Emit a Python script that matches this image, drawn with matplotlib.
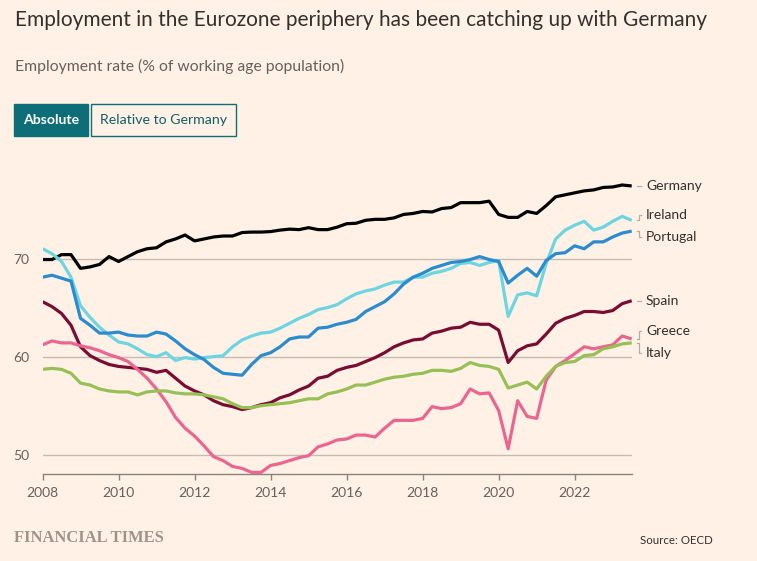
import matplotlib
matplotlib.use("Agg")
import matplotlib.pyplot as plt
from matplotlib.patches import Rectangle
import pandas as pd
import numpy as np

# ---------------- data (quarterly, 2008Q1 - 2023Q3) ----------------
quarters = pd.period_range("2008Q1", "2023Q3", freq="Q")

germany = [69.9, 69.9, 70.4, 70.4, 69.0, 69.15, 69.4, 70.2, 69.7, 70.2, 70.7, 71.0, 71.1, 71.7, 72.0, 72.4,
           71.8, 72.0, 72.2, 72.3, 72.3, 72.65, 72.7, 72.7, 72.75, 72.9, 73.0, 72.95, 73.15, 72.95, 72.95, 73.2,
           73.55, 73.6, 73.9, 74.0, 74.0, 74.15, 74.5, 74.6, 74.8, 74.75, 75.1, 75.2, 75.7, 75.7, 75.7, 75.85,
           74.5, 74.2, 74.2, 74.8, 74.6, 75.4, 76.3, 76.5, 76.7, 76.9, 77.0, 77.25, 77.3, 77.5, 77.4]
ireland = [71.0, 70.5, 69.7, 68.1, 65.2, 64.0, 63.0, 62.2, 61.5, 61.3, 60.8, 60.2, 60.0, 60.4, 59.6, 59.9,
           59.75, 59.9, 60.0, 60.1, 61.0, 61.7, 62.1, 62.4, 62.5, 62.9, 63.4, 63.9, 64.3, 64.8, 65.0, 65.3,
           65.9, 66.4, 66.7, 66.9, 67.3, 67.6, 67.6, 68.1, 68.1, 68.5, 68.7, 69.0, 69.5, 69.6, 69.3, 69.6,
           69.8, 64.1, 66.3, 66.5, 66.2, 69.5, 72.0, 72.9, 73.4, 73.8, 72.9, 73.2, 73.8, 74.3, 73.9]
portugal = [68.1, 68.3, 68.0, 67.7, 63.9, 63.2, 62.4, 62.4, 62.5, 62.2, 62.1, 62.1, 62.5, 62.3, 61.6, 60.8,
            60.2, 59.7, 58.9, 58.3, 58.2, 58.1, 59.2, 60.1, 60.4, 61.0, 61.8, 62.0, 62.0, 62.9, 63.0, 63.3,
            63.5, 63.8, 64.6, 65.1, 65.6, 66.4, 67.4, 68.1, 68.5, 69.0, 69.3, 69.6, 69.7, 69.9, 70.2, 69.9,
            69.7, 67.5, 68.3, 69.0, 68.2, 69.8, 70.5, 70.6, 71.3, 71.0, 71.7, 71.7, 72.2, 72.6, 72.8]
spain = [65.6, 65.1, 64.4, 63.2, 61.0, 60.1, 59.6, 59.2, 59.0, 58.9, 58.8, 58.7, 58.4, 58.6, 57.8, 57.0,
         56.5, 56.1, 55.5, 55.1, 54.9, 54.6, 54.8, 55.1, 55.3, 55.8, 56.1, 56.6, 57.0, 57.8, 58.0, 58.6,
         58.9, 59.1, 59.5, 59.9, 60.4, 61.0, 61.4, 61.7, 61.8, 62.4, 62.6, 62.9, 63.0, 63.5, 63.3, 63.3,
         62.7, 59.4, 60.6, 61.1, 61.3, 62.3, 63.4, 63.9, 64.2, 64.6, 64.6, 64.5, 64.7, 65.4, 65.7]
greece = [61.2, 61.6, 61.4, 61.4, 61.1, 60.9, 60.6, 60.2, 59.9, 59.5, 58.7, 57.8, 56.7, 55.4, 53.8, 52.7,
          51.9, 50.9, 49.8, 49.4, 48.8, 48.6, 48.2, 48.2, 48.9, 49.1, 49.4, 49.7, 49.9, 50.8, 51.1, 51.5,
          51.6, 52.0, 52.0, 51.8, 52.7, 53.5, 53.5, 53.5, 53.7, 54.9, 54.7, 54.8, 55.2, 56.7, 56.2, 56.3,
          54.5, 50.6, 55.5, 53.9, 53.7, 57.6, 59.0, 59.6, 60.3, 61.0, 60.8, 61.0, 61.2, 62.1, 61.8]
italy = [58.7, 58.8, 58.7, 58.3, 57.3, 57.1, 56.7, 56.5, 56.4, 56.4, 56.1, 56.4, 56.5, 56.5, 56.3, 56.2,
         56.2, 56.1, 55.9, 55.7, 55.2, 54.8, 54.8, 55.0, 55.1, 55.2, 55.3, 55.5, 55.7, 55.7, 56.2, 56.4,
         56.7, 57.1, 57.1, 57.4, 57.7, 57.9, 58.0, 58.2, 58.3, 58.6, 58.6, 58.5, 58.8, 59.4, 59.1, 59.0,
         58.7, 56.8, 57.1, 57.4, 56.7, 58.0, 59.0, 59.4, 59.5, 60.1, 60.2, 60.8, 61.0, 61.3, 61.4]

countries = ["Germany", "Ireland", "Portugal", "Spain", "Greece", "Italy"]
series = [germany, ireland, portugal, spain, greece, italy]
colors = ["#000000", "#6dd4e2", "#2a8ccf", "#780c33", "#ea6590", "#96bf55"]
label_offsets = [0.0, 0.5, -0.65, 0.0, 0.8, -1.0]   # layout nudges for end labels

x_ticks = [2008, 2010, 2012, 2014, 2016, 2018, 2020, 2022]
y_ticks = [50, 60, 70]

# ---------------- styling ----------------
BG = "#fff1e5"
TXT = "#33302e"
GREY = "#66605c"
plt.rcParams["font.family"] = ["Lato", "DejaVu Sans"]

W, H = 757, 561
fig = plt.figure(figsize=(W / 100, H / 100), dpi=100, facecolor=BG)


def fx(px):
    return px / W


def fy(py):
    return 1 - py / H


def fit(t, target):
    r = fig.canvas.get_renderer()
    w = t.get_window_extent(r).width
    t.set_fontsize(t.get_fontsize() * target / w)
    return t.get_fontsize()


# axes: 2008 at x=42.5 px, 2023.5 at 631.7 px; y 48 at 474.3 px, 78 at 180.1 px
ax = fig.add_axes([fx(42.5), fy(474.3), fx(631.7) - fx(42.5), fy(180.1) - fy(474.3)])
ax.set_facecolor(BG)
x = np.array([q.year + (q.quarter - 1) / 4 for q in quarters])

for name, vals, c in zip(countries, series, colors):
    ax.plot(x, vals, color=c, lw=2.3, solid_capstyle="butt", solid_joinstyle="round", zorder=3)

ax.set_xlim(2008, 2023.5)
ax.set_ylim(48, 78)
ax.set_yticks(y_ticks)
ax.set_xticks(x_ticks)
ax.yaxis.grid(True, color="#c5bbb2", lw=1)
ax.set_axisbelow(True)
for s in ["top", "right", "left"]:
    ax.spines[s].set_visible(False)
ax.spines["bottom"].set_color("#8a827c")
ax.spines["bottom"].set_linewidth(1)

# tick label sizes from measured widths
probe = fig.text(0, 0, "2008")
tick_fs = fit(probe, 32)
probe.remove()
ax.tick_params(axis="y", length=0, pad=9.5, labelsize=tick_fs, labelcolor=GREY)
ax.tick_params(axis="x", length=4.5, width=1, color="#8a827c", pad=4.5, labelsize=tick_fs, labelcolor=GREY)


def px2yr(px):
    return 2008 + (px - 42.5) / 38.05


probe = fig.text(0, 0, "Germany")
lab_fs = fit(probe, 56)
probe.remove()

for name, vals, off in zip(countries, series, label_offsets):
    yend = vals[-1]
    ylab = yend + off
    if off == 0:
        ax.plot([px2yr(637.5), px2yr(641.5)], [ylab, ylab], color="#b7ada5", lw=0.9, clip_on=False)
    else:
        ax.plot([px2yr(637.5), px2yr(639.3), px2yr(639.3), px2yr(641.3)],
                [yend, yend, ylab, ylab], color="#b7ada5", lw=0.9, clip_on=False)
    ax.text(px2yr(646.5), ylab, name, ha="left", va="center", fontsize=lab_fs, color=TXT, clip_on=False)

# ---------------- header ----------------
title = fig.text(fx(15), fy(26), "Employment in the Eurozone periphery has been catching up with Germany",
                 ha="left", va="baseline", color=TXT, fontsize=15)
fit(title, 692)
sub = fig.text(fx(15), fy(70.7), "Employment rate (% of working age population)",
               ha="left", va="baseline", color=GREY, fontsize=11)
fit(sub, 328)

TEAL = "#0d6e78"
fig.patches.append(Rectangle((fx(14), fy(136)), fx(88.3) - fx(14), fy(104) - fy(136),
                             transform=fig.transFigure, facecolor=TEAL, edgecolor=TEAL, lw=1))
fig.patches.append(Rectangle((fx(90.5), fy(135.5)), fx(236) - fx(90.5), fy(104.5) - fy(135.5),
                             transform=fig.transFigure, facecolor="none", edgecolor=TEAL, lw=1))
b1 = fig.text(fx(51.2), fy(120), "Absolute", ha="center", va="center", color="white",
              fontweight="bold", fontsize=10)
fit(b1, 56)
b2 = fig.text(fx(163.3), fy(120), "Relative to Germany", ha="center", va="center", color="#135e66",
              fontsize=10)
fit(b2, 126.7)

# ---------------- footer ----------------
ft = fig.text(fx(14), fy(538.5), "FINANCIAL TIMES", ha="left", va="center", color="#9d938b",
              family=["Liberation Serif", "DejaVu Serif"], fontweight="bold", fontsize=11)
fit(ft, 149)
src = fig.text(fx(640), fy(540), "Source: OECD", ha="left", va="center", color=TXT, fontsize=9)
fit(src, 73)

fig.savefig("out.png", dpi=100, facecolor=BG)
